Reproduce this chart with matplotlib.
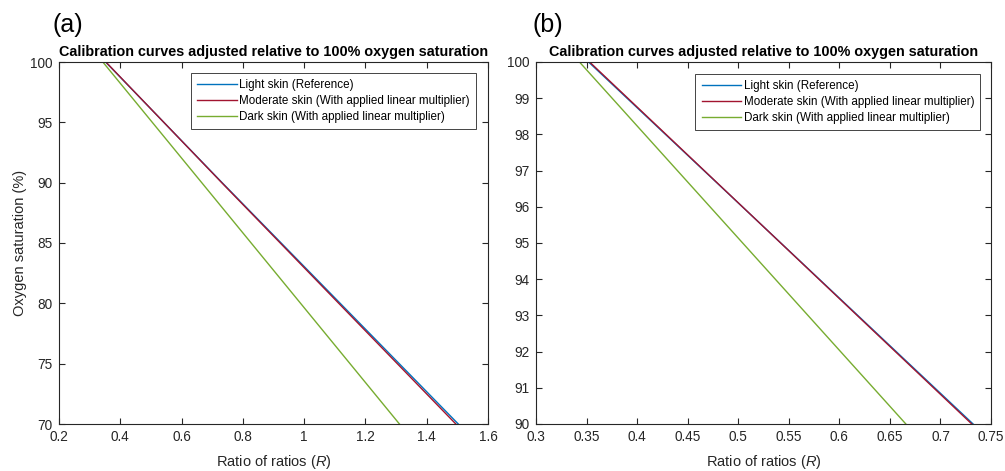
import matplotlib
matplotlib.use("Agg")
import matplotlib.pyplot as plt

plt.rcParams['font.family'] = ['Liberation Sans', 'DejaVu Sans']
plt.rcParams['mathtext.fontset'] = 'custom'
plt.rcParams['mathtext.it'] = 'Liberation Sans:italic'

# oxygen saturation (%) and the ratio of ratios
spo2 = [100, 90, 70]
r_light = [0.352, 0.7323, 1.503]
r_moderate = [0.353, 0.731, 1.495]
r_dark = [0.343, 0.6658, 1.311]

labels = ["Light skin (Reference)",
          "Moderate skin (With applied linear multiplier)",
          "Dark skin (With applied linear multiplier)"]
colors = ["#0072BD", "#A2142F", "#77AC30"]

title = "Calibration curves adjusted relative to 100% oxygen saturation"
xticks_a = [0.2, 0.4, 0.6, 0.8, 1, 1.2, 1.4, 1.6]
xtick_labels_a = ["0.2", "0.4", "0.6", "0.8", "1", "1.2", "1.4", "1.6"]
yticks_a = [70, 75, 80, 85, 90, 95, 100]
xticks_b = [0.3, 0.35, 0.4, 0.45, 0.5, 0.55, 0.6, 0.65, 0.7, 0.75]
xtick_labels_b = ["0.3", "0.35", "0.4", "0.45", "0.5", "0.55", "0.6", "0.65", "0.7", "0.75"]
yticks_b = [90, 91, 92, 93, 94, 95, 96, 97, 98, 99, 100]

axis_col = "#262626"

fig = plt.figure(figsize=(10.05, 4.71), dpi=100)
ax_a = fig.add_axes([59/1005, 47/471, 429/1005, 362/471])
ax_b = fig.add_axes([536/1005, 47/471, 455/1005, 362/471])


def style(ax, xlim, ylim, xt, xtl, yt, anchor):
    for r, lab, c in zip([r_light, r_moderate, r_dark], labels, colors):
        ax.plot(r, spo2, color=c, lw=1.0, label=lab)
    ax.set_xlim(*xlim)
    ax.set_ylim(*ylim)
    ax.set_xticks(xt)
    ax.set_xticklabels(xtl)
    ax.set_yticks(yt)
    ax.set_yticklabels([str(v) for v in yt])
    ax.tick_params(direction='in', top=True, right=True, length=4,
                   width=0.8, colors=axis_col, labelsize=9.8, pad=4.5)
    for s in ax.spines.values():
        s.set_color(axis_col)
        s.set_linewidth(0.8)
    ax.set_title(title, fontsize=10.4, fontweight='bold', pad=4)
    ax.set_xlabel(r"Ratio of ratios ($\mathit{R}$)", fontsize=10.5,
                  color=axis_col, labelpad=6.5)
    leg = ax.legend(loc='upper right', bbox_to_anchor=anchor,
                    borderaxespad=0, fontsize=8.4, handlelength=3.4,
                    handletextpad=0.2, labelspacing=0.34, fancybox=False,
                    framealpha=1, edgecolor=axis_col, borderpad=0.52)
    leg.get_frame().set_linewidth(0.6)


style(ax_a, (0.2, 1.6), (70, 100), xticks_a, xtick_labels_a, yticks_a,
      (0.972, 0.970))
style(ax_b, (0.3, 0.75), (90, 100), xticks_b, xtick_labels_b, yticks_b,
      (0.976, 0.967))
ax_a.set_ylabel("Oxygen saturation (%)", fontsize=10.5, color=axis_col,
                labelpad=2)

fig.text(52/1005, 1 - 25/471, "(a)", fontsize=18, va='center', ha='left')
fig.text(532/1005, 1 - 25/471, "(b)", fontsize=18, va='center', ha='left')

fig.savefig("out.png", dpi=100)
